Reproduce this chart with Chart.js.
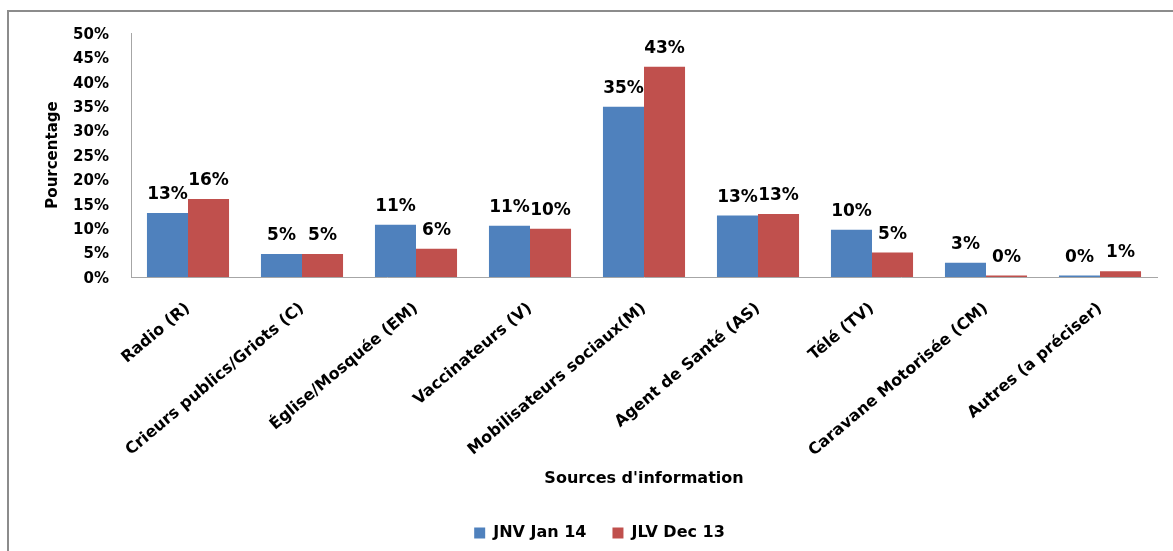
<!DOCTYPE html>
<html>
<head>
<meta charset="utf-8">
<script src="https://cdn.jsdelivr.net/npm/chart.js@4"></script>
<style>
html,body{margin:0;padding:0;background:#fff;}
#wrap{width:1173px;height:551px;position:relative;}
</style>
</head>
<body>
<div id="wrap"><canvas id="c" width="1173" height="551"></canvas></div>
<script>
const categories = ["Radio (R)", "Crieurs publics/Griots (C)", "Église/Mosquée (EM)", "Vaccinateurs (V)", "Mobilisateurs sociaux(M)", "Agent de Santé (AS)", "Télé (TV)", "Caravane Motorisée (CM)", "Autres (a préciser)"];
const seriesNames = ["JNV Jan 14", "JLV Dec 13"];
const jnvJan14 = [13.1, 4.7, 10.7, 10.5, 34.9, 12.6, 9.7, 2.9, 0.3];
const jlvDec13 = [16.0, 4.7, 5.8, 9.9, 43.1, 12.9, 5.0, 0.3, 1.2];
const yTicks = [0, 5, 10, 15, 20, 25, 30, 35, 40, 45, 50];

const FONT = "'DejaVu Sans', sans-serif";

const borderPlugin = {
  id: 'frame',
  beforeDraw(chart) {
    const ctx = chart.ctx;
    ctx.save();
    ctx.fillStyle = '#fff';
    ctx.fillRect(0, 0, chart.width, chart.height);
    ctx.fillStyle = '#8c8c8c';
    ctx.fillRect(7, 10, 2, chart.height - 10);
    ctx.fillRect(7, 10, chart.width - 7, 2);
    ctx.restore();
  }
};

const labelPlugin = {
  id: 'valueLabels',
  afterDatasetsDraw(chart) {
    const ctx = chart.ctx;
    ctx.save();
    ctx.font = "bold 17px " + FONT;
    ctx.fillStyle = '#000';
    ctx.textAlign = 'center';
    ctx.textBaseline = 'alphabetic';
    chart.data.datasets.forEach((ds, di) => {
      const meta = chart.getDatasetMeta(di);
      meta.data.forEach((bar, i) => {
        ctx.fillText(Math.round(ds.data[i]) + '%', bar.x, bar.y - 14);
      });
    });
    ctx.restore();
  }
};

new Chart(document.getElementById('c'), {
  type: 'bar',
  data: {
    labels: categories,
    datasets: [
      { label: seriesNames[0], data: jnvJan14, backgroundColor: '#4F81BD', borderWidth: 0 },
      { label: seriesNames[1], data: jlvDec13, backgroundColor: '#C0504D', borderWidth: 0 }
    ]
  },
  options: {
    responsive: false,
    animation: false,
    devicePixelRatio: 1,
    layout: { padding: { left: 42, right: 16, top: 33, bottom: 0 } },
    datasets: { bar: { categoryPercentage: 0.72, barPercentage: 1.0 } },
    plugins: {
      legend: {
        position: 'bottom',
        labels: {
          boxWidth: 11, boxHeight: 11, padding: 26,
          color: '#000',
          font: { family: FONT, size: 16, weight: 'bold' }
        }
      },
      tooltip: { enabled: false }
    },
    scales: {
      x: {
        grid: { display: false },
        border: { display: true, color: '#a6a6a6', width: 1 },
        ticks: {
          minRotation: 40, maxRotation: 40, autoSkip: false, padding: 14,
          color: '#000',
          font: { family: FONT, size: 16, weight: 'bold' }
        },
        title: {
          display: true, text: "Sources d'information", color: '#000',
          font: { family: FONT, size: 16, weight: 'bold' },
          padding: { top: 0, bottom: 11 }
        },
        afterFit: (s) => { s.height = 222; }
      },
      y: {
        min: 0, max: 50,
        grid: { display: false, drawTicks: false },
        border: { display: true, color: '#a6a6a6', width: 1 },
        afterBuildTicks: (s) => { s.ticks = yTicks.map(v => ({ value: v })); },
        ticks: {
          padding: 22, labelOffset: 2, color: '#000',
          font: { family: FONT, size: 15, weight: 'bold' },
          callback: (v) => v + '%'
        },
        title: {
          display: true, text: 'Pourcentage', color: '#000',
          font: { family: FONT, size: 15, weight: 'bold' },
          padding: { top: 2, bottom: 0 }
        },
        afterFit: (s) => { s.width = 89; }
      }
    }
  },
  plugins: [borderPlugin, labelPlugin]
});
</script>
</body>
</html>
